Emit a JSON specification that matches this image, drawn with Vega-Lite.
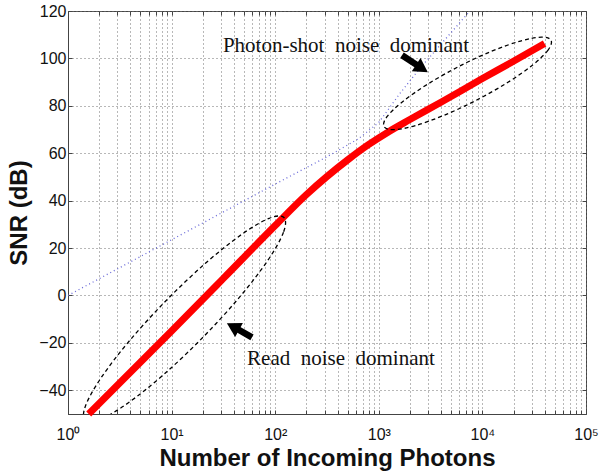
{
  "$schema": "https://vega.github.io/schema/vega-lite/v6.json",
  "autosize": {"type": "none"},
  "padding": {"left": 68, "top": 11, "right": 15, "bottom": 61},
  "width": 518,
  "height": 403,
  "background": "white",
  "config": {
    "view": {"stroke": "#444", "strokeWidth": 1},
    "axis": {
      "labelFont": "Liberation Sans",
      "labelFontSize": 16,
      "labelColor": "#111",
      "titleFont": "Liberation Sans",
      "titleFontSize": 24,
      "titleFontWeight": "bold",
      "titleColor": "#111",
      "domainColor": "#444",
      "tickColor": "#444",
      "tickSize": -4,
      "grid": true,
      "gridColor": "#707070",
      "gridDash": [1, 3],
      "gridOpacity": 1,
      "gridWidth": 1,
      "labelOverlap": false,
      "labelFlush": false
    }
  },
  "datasets": {
    "blue": [
      {"n": 1, "snr": 0},
      {"n": 10, "snr": 23.5},
      {"n": 100, "snr": 47},
      {"n": 316, "snr": 58.5},
      {"n": 631, "snr": 66},
      {"n": 1000, "snr": 73},
      {"n": 1585, "snr": 85},
      {"n": 2512, "snr": 96},
      {"n": 3981, "snr": 106},
      {"n": 5623, "snr": 113.5},
      {"n": 7586, "snr": 120}
    ],
    "red": [
      {"n": 1.585, "snr": -50},
      {"n": 10, "snr": -15},
      {"n": 31.62, "snr": 7.2},
      {"n": 100, "snr": 29.5},
      {"n": 199.5, "snr": 42.5},
      {"n": 316.2, "snr": 50.2},
      {"n": 501.2, "snr": 57.2},
      {"n": 794.3, "snr": 63.6},
      {"n": 1258.9, "snr": 69.2},
      {"n": 1995.3, "snr": 74.2},
      {"n": 3981, "snr": 81.5},
      {"n": 10000, "snr": 91.5},
      {"n": 19953, "snr": 98.8},
      {"n": 39811, "snr": 106.3}
    ],
    "ellipses": [
      {"e": "a", "i": 1, "n": 121.3, "snr": 32.87},
      {"e": "a", "i": 2, "n": 120.2, "snr": 26.68},
      {"e": "a", "i": 3, "n": 85.1, "snr": 14.9},
      {"e": "a", "i": 4, "n": 45.45, "snr": -0.62},
      {"e": "a", "i": 5, "n": 20.13, "snr": -17.59},
      {"e": "a", "i": 6, "n": 8.369, "snr": -33.4},
      {"e": "a", "i": 7, "n": 3.74, "snr": -45.59},
      {"e": "a", "i": 8, "n": 2.026, "snr": -52.39},
      {"e": "a", "i": 9, "n": 1.463, "snr": -52.7},
      {"e": "a", "i": 10, "n": 1.477, "snr": -46.51},
      {"e": "a", "i": 11, "n": 2.087, "snr": -34.73},
      {"e": "a", "i": 12, "n": 3.904, "snr": -19.21},
      {"e": "a", "i": 13, "n": 8.818, "snr": -2.24},
      {"e": "a", "i": 14, "n": 21.21, "snr": 13.57},
      {"e": "a", "i": 15, "n": 47.46, "snr": 25.76},
      {"e": "a", "i": 16, "n": 87.6, "snr": 32.56},
      {"e": "b", "i": 1, "n": 45990, "snr": 107.62},
      {"e": "b", "i": 2, "n": 43030, "snr": 103.51},
      {"e": "b", "i": 3, "n": 30600, "snr": 97.26},
      {"e": "b", "i": 4, "n": 17490, "snr": 89.82},
      {"e": "b", "i": 5, "n": 8713, "snr": 82.32},
      {"e": "b", "i": 6, "n": 4215, "snr": 75.91},
      {"e": "b", "i": 7, "n": 2214, "snr": 71.57},
      {"e": "b", "i": 8, "n": 1390, "snr": 69.94},
      {"e": "b", "i": 9, "n": 1121, "snr": 71.29},
      {"e": "b", "i": 10, "n": 1199, "snr": 75.4},
      {"e": "b", "i": 11, "n": 1685, "snr": 81.65},
      {"e": "b", "i": 12, "n": 2948, "snr": 89.08},
      {"e": "b", "i": 13, "n": 5918, "snr": 96.58},
      {"e": "b", "i": 14, "n": 12230, "snr": 103.0},
      {"e": "b", "i": 15, "n": 23290, "snr": 107.33},
      {"e": "b", "i": 16, "n": 37100, "snr": 108.97}
    ],
    "arrows": [
      {"n": 1675, "snr": 101.3, "n2": 2612, "snr2": 95.8},
      {"n": 59.7, "snr": -17.7, "n2": 39.1, "snr2": -13.1}
    ],
    "headUp": [{"n": 2612, "snr": 95.8}],
    "headLow": [{"n": 39.1, "snr": -13.1}],
    "labels": [
      {"n": 31.3, "snr": 102.5, "label": "Photon-shot\u00a0 noise\u00a0 dominant"},
      {"n": 53.5, "snr": -29.5, "label": "Read\u00a0 noise\u00a0 dominant"}
    ]
  },
  "encoding": {
    "x": {
      "field": "n",
      "type": "quantitative",
      "scale": {"type": "log", "domain": [1, 100000], "nice": false},
      "axis": null
    },
    "y": {
      "field": "snr",
      "type": "quantitative",
      "scale": {"domain": [-50, 120], "nice": false, "zero": false},
      "axis": null
    }
  },
  "resolve": {"axis": {"x": "independent", "y": "independent"}},
  "layer": [
    {
      "data": {"name": "blue"},
      "mark": {"type": "line", "color": "#6a6ad8", "strokeWidth": 1.3, "strokeDash": [1, 3], "clip": true},
      "encoding": {
        "x": {
          "field": "n",
          "type": "quantitative",
          "scale": {"type": "log", "domain": [1, 100000], "nice": false},
          "axis": {
            "orient": "bottom",
            "title": "Number of Incoming Photons",
            "values": [1,2,3,4,5,6,7,8,9,10,20,30,40,50,60,70,80,90,100,200,300,400,500,600,700,800,900,1000,2000,3000,4000,5000,6000,7000,8000,9000,10000,20000,30000,40000,50000,60000,70000,80000,90000,100000],
            "labelExpr": "indexof([1,10,100,1000,10000,100000], datum.value) < 0 ? '' : '10' + ['⁰','¹','²','³','⁴','⁵'][indexof([1,10,100,1000,10000,100000], datum.value)]",
            "labelPadding": 16,
            "titlePadding": 4
          }
        },
        "y": {
          "field": "snr",
          "type": "quantitative",
          "scale": {"domain": [-50, 120], "nice": false, "zero": false},
          "axis": {
            "orient": "left",
            "title": "SNR (dB)",
            "values": [-40, -20, 0, 20, 40, 60, 80, 100, 120],
            "format": "d",
            "labelPadding": 6,
            "titlePadding": 7
          }
        }
      }
    },
    {
      "data": {"name": "red"},
      "mark": {"type": "line", "color": "#ff0000", "strokeWidth": 7, "interpolate": "monotone", "strokeCap": "butt"},
      "encoding": {
        "x": {
          "field": "n",
          "type": "quantitative",
          "scale": {"type": "log", "domain": [1, 100000], "nice": false},
          "axis": {
            "orient": "top",
            "title": null,
            "labels": false,
            "grid": false,
            "domain": false,
            "values": [1,2,3,4,5,6,7,8,9,10,20,30,40,50,60,70,80,90,100,200,300,400,500,600,700,800,900,1000,2000,3000,4000,5000,6000,7000,8000,9000,10000,20000,30000,40000,50000,60000,70000,80000,90000,100000]
          }
        },
        "y": {
          "field": "snr",
          "type": "quantitative",
          "scale": {"domain": [-50, 120], "nice": false, "zero": false},
          "axis": {
            "orient": "right",
            "title": null,
            "labels": false,
            "grid": false,
            "domain": false,
            "values": [-40, -20, 0, 20, 40, 60, 80, 100, 120]
          }
        }
      }
    },
    {
      "data": {"name": "ellipses"},
      "mark": {"type": "line", "color": "#000000", "strokeWidth": 1.3, "strokeDash": [4, 3], "interpolate": "cardinal-closed", "clip": true},
      "encoding": {
        "detail": {"field": "e"},
        "order": {"field": "i", "type": "quantitative"}
      }
    },
    {
      "data": {"name": "arrows"},
      "mark": {"type": "rule", "color": "#000000", "strokeWidth": 6.5, "strokeCap": "butt"},
      "encoding": {
        "x2": {"field": "n2"},
        "y2": {"field": "snr2"}
      }
    },
    {
      "data": {"name": "headUp"},
      "mark": {"type": "point", "shape": "triangle-up", "filled": true, "color": "#000000", "opacity": 1, "size": 256, "angle": 123}
    },
    {
      "data": {"name": "headLow"},
      "mark": {"type": "point", "shape": "triangle-up", "filled": true, "color": "#000000", "opacity": 1, "size": 256, "angle": 299}
    },
    {
      "data": {"name": "labels"},
      "mark": {"type": "text", "font": "Liberation Serif", "fontSize": 21, "align": "left", "baseline": "alphabetic", "color": "#111"},
      "encoding": {"text": {"field": "label"}}
    }
  ]
}
